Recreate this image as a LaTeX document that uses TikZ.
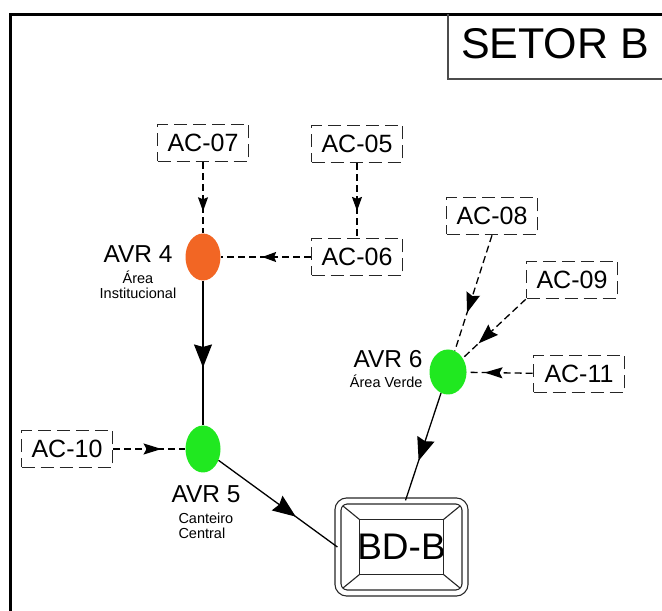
\documentclass[tikz,border=0pt]{standalone}
\usepackage{fontspec}
\setmainfont{Liberation Sans}
\usetikzlibrary{positioning,arrows.meta,shapes.geometric,decorations.markings,calc}
\definecolor{avrorange}{RGB}{242,102,36}
\definecolor{avrgreen}{RGB}{32,232,32}
\tikzset{
  sb frame/.style={line width=3.5pt,black},
  sb titlebox/.style={line width=1.6pt,black!70},
  sb title/.style={font=\fontsize{43}{43}\selectfont,inner sep=0pt},
  sb ac/.style={draw=black!85,line width=1.6pt,dash pattern=on 13pt off 6pt,
    minimum width=91pt,minimum height=37pt,inner sep=0pt,
    font=\fontsize{25}{25}\selectfont},
  sb avr/.style={ellipse,inner sep=0pt,minimum width=35pt,minimum height=47pt},
  sb name/.style={font=\fontsize{24.5}{24.5}\selectfont,inner sep=0pt},
  sb desc/.style={font=\fontsize{14.5}{15.5}\selectfont,inner sep=0pt},
  sb tank/.style={draw=black!85,line width=1.2pt,double,double distance=4.8pt,
    rounded corners=9pt,minimum width=127pt,minimum height=92pt,inner sep=0pt,
    font=\fontsize{37}{37}\selectfont},
  sb tankline/.style={line width=1.1pt,black!85},
  sb pipe/.style={line width=1.3pt,black},
  sb dashpipe/.style={line width=1.3pt,black,dash pattern=on 7pt off 4pt},
  sb mid/.style 2 args={decoration={markings,
      mark=at position #1 with {\arrow{#2}}},postaction={decorate}},
  smalltip/.tip={Stealth[length=14pt,width=10pt,inset=2pt]},
  midtip/.tip={Stealth[length=18pt,width=11pt,inset=3pt]},
  slanttip/.tip={Stealth[length=20pt,width=14pt,inset=2.5pt]},
  bigtip/.tip={Stealth[length=23pt,width=18pt,inset=2.5pt]}
}
\begin{document}
\begin{tikzpicture}[x=1pt,y=1pt]
  \useasboundingbox (0,0) rectangle (662,611);

  % sheet frame and title block
  \draw[sb frame] (10.5,-5) |- (670,596.5);
  \draw[sb titlebox] (448,596.5) |- (670,532);
  \node[sb title] (setor) at (555,567) {SETOR B};

  % contribution areas
  \node[sb ac] (ac07) at (203,468) {AC-07};
  \node[sb ac] (ac05) at (357,467) {AC-05};
  \node[sb ac] (ac06) at (357,354) {AC-06};
  \node[sb ac] (ac08) at (492,395) {AC-08};
  \node[sb ac] (ac09) at (572,331) {AC-09};
  \node[sb ac] (ac11) at (579,237) {AC-11};
  \node[sb ac] (ac10) at (67,162) {AC-10};

  % retention areas
  \node[sb avr,fill=avrorange] (avr4) at (203,354) {};
  \node[sb avr,fill=avrgreen] (avr5) at (203,162) {};
  \node[sb avr,fill=avrgreen,minimum width=37pt,minimum height=45pt] (avr6) at (448,239) {};

  \node[sb name] (avr4 name) at (138,357) {AVR 4};
  \node[sb desc,align=center,below=8pt of avr4 name] (avr4 desc) {Área\\Institucional};
  \node[sb name] (avr6 name) at (388,252) {AVR 6};
  \node[sb desc,below=7pt of avr6 name.south east,anchor=north east] (avr6 desc) {Área Verde};
  \node[sb name] (avr5 name) at (206,117) {AVR 5};
  \node[sb desc,align=left,below=10pt of avr5 name.south west,anchor=north west,
    xshift=7pt] (avr5 desc) {Canteiro\\Central};

  % outlet box
  \node[sb tank] (bdb) at (401.5,64) {BD-B};
  \foreach \sx/\sy in {-1/1,1/1,1/-1,-1/-1}
    \draw[sb tankline] ($(bdb.center)+(\sx*42,\sy*27.5)$) -- ($(bdb.center)+(\sx*58.5,\sy*41)$);
  \draw[sb tankline] ($(bdb.center)+(-42,-27.5)$) rectangle ($(bdb.center)+(42,27.5)$);

  % dashed contributions
  \draw[sb dashpipe,sb mid={0.69}{smalltip}] (ac07) -- (avr4);
  \draw[sb dashpipe,sb mid={0.64}{smalltip}] (ac05) -- (ac06);
  \draw[sb dashpipe,sb mid={0.54}{smalltip}] (ac06) -- (avr4);
  \draw[sb dashpipe,sb mid={0.67}{midtip}] (ac10) -- (avr5);
  \draw[sb dashpipe,sb mid={0.67}{slanttip}] (ac08.south) -- (avr6);
  \draw[sb dashpipe,sb mid={0.75}{slanttip}] (ac09.south west) -- (avr6);
  \draw[sb dashpipe,sb mid={0.73}{midtip}] (ac11) -- (avr6);

  % pipes
  \draw[sb pipe,sb mid={0.60}{bigtip}] (avr4) -- (avr5);
  \draw[sb pipe,sb mid={0.65}{bigtip}] (avr5) -- (bdb.west);
  \draw[sb pipe,sb mid={0.63}{bigtip}] (avr6) -- ([xshift=4pt]bdb.north);
\end{tikzpicture}
\end{document}
